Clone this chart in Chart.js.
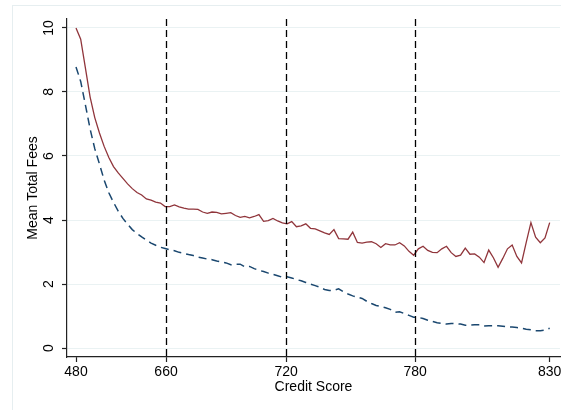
<!DOCTYPE html>
<html>
<head>
<meta charset="utf-8">
<script src="https://cdn.jsdelivr.net/npm/chart.js@4.4.1/dist/chart.umd.min.js"></script>
<style>
  body { margin: 0; background: #fff; }
  #wrap { width: 561px; height: 410px; }
</style>
</head>
<body>
<div id="wrap"><canvas id="Graph" width="561" height="410"></canvas></div>
<script>
// mean fees by credit score bin (bins 480 .. 830)
const feesAll = [
  10.0, 9.65, 8.75, 7.85, 7.2, 6.72, 6.3, 5.95, 5.67, 5.47,
  5.3, 5.13, 4.98, 4.86, 4.78, 4.66, 4.62, 4.56, 4.53, 4.42,
  4.42, 4.47, 4.41, 4.37, 4.34, 4.34, 4.33, 4.25, 4.21, 4.25,
  4.24, 4.19, 4.21, 4.23, 4.14, 4.08, 4.11, 4.07, 4.11, 4.17,
  3.96, 3.98, 4.05, 3.97, 3.91, 3.88, 3.95, 3.79, 3.82, 3.88,
  3.74, 3.72, 3.66, 3.6, 3.55, 3.7, 3.42, 3.41, 3.4, 3.62,
  3.3, 3.28, 3.31, 3.32, 3.26, 3.14, 3.26, 3.22, 3.22, 3.29,
  3.19, 3.02, 2.9, 3.1, 3.18, 3.05, 2.99, 2.98, 3.1, 3.18,
  2.98, 2.86, 2.9, 3.12, 2.93, 2.94, 2.84, 2.67, 3.06, 2.82,
  2.52, 2.8, 3.1, 3.22, 2.86, 2.66, 3.3, 3.92, 3.46, 3.29,
  3.44, 3.92
];
const feesFitted = [
  8.78, 8.33, 7.6, 6.85, 6.23, 5.75, 5.25, 4.85, 4.55, 4.28,
  4.05, 3.87, 3.7, 3.58, 3.47, 3.37, 3.28, 3.21, 3.15, 3.11,
  3.07, 3.04, 2.99, 2.96, 2.92, 2.89, 2.84, 2.81, 2.78, 2.76,
  2.72, 2.69, 2.66, 2.6, 2.62, 2.62, 2.54, 2.55, 2.48, 2.43,
  2.39, 2.34, 2.3, 2.26, 2.21, 2.23, 2.19, 2.14, 2.1, 2.05,
  2.0, 1.95, 1.9, 1.83, 1.8, 1.8, 1.85, 1.76, 1.69, 1.63,
  1.59, 1.55, 1.46, 1.39, 1.33, 1.3, 1.26, 1.21, 1.12, 1.13,
  1.08, 1.02, 0.96, 0.96, 0.92, 0.87, 0.83, 0.79, 0.77, 0.75,
  0.77, 0.76, 0.75, 0.71, 0.72, 0.73, 0.73, 0.69, 0.7, 0.7,
  0.7, 0.68, 0.66, 0.66, 0.64, 0.62, 0.59, 0.57, 0.54, 0.54,
  0.56, 0.62
];

// x axis: bin position -> credit score label
const xTickPos = [0, 19.2, 44.8, 72.3, 101];
const xTickLabels = ['480', '660', '720', '780', '830'];
const cutoffPos = [19.2, 44.8, 72.3];
const yTicks = [0, 2, 4, 6, 8, 10];

const frame = {
    id: 'frame',
    beforeDraw(chart) {
        const ctx = chart.ctx;
        ctx.save();
        ctx.fillStyle = '#fff';
        ctx.fillRect(0, 0, chart.width, chart.height);
        ctx.strokeStyle = '#e6eef0';
        ctx.lineWidth = 1;
        ctx.strokeRect(12.5, 5.5, chart.width, chart.height);
        ctx.restore();
    }
};

const cutoffLines = {
    id: 'cutoffLines',
    afterDatasetsDraw(chart) {
        const ctx = chart.ctx;
        const xs = chart.scales.x;
        const area = chart.chartArea;
        ctx.save();
        ctx.strokeStyle = '#000';
        ctx.lineWidth = 1.3;
        ctx.setLineDash([7, 4]);
        cutoffPos.forEach(v => {
            const px = Math.round(xs.getPixelForValue(v)) + 0.5;
            ctx.beginPath();
            ctx.moveTo(px, area.top);
            ctx.lineTo(px, area.bottom);
            ctx.stroke();
        });
        ctx.restore();
    }
};

const font = { family: '"Liberation Sans", Arial, Helvetica, sans-serif', size: 14 };

const ctx = document.getElementById('Graph').getContext('2d');
new Chart(ctx, {
    type: 'line',
    data: {
        datasets: [{
            data: feesAll.map((v, i) => ({ x: i, y: v })),
            borderColor: '#90353b',
            borderWidth: 1.3,
            pointRadius: 0,
            tension: 0
        }, {
            data: feesFitted.map((v, i) => ({ x: i, y: v })),
            borderColor: '#1a476f',
            borderWidth: 1.5,
            borderDash: [8, 5],
            pointRadius: 0,
            tension: 0
        }]
    },
    options: {
        responsive: false,
        animation: false,
        layout: { padding: { top: 19, right: 1, bottom: 0, left: 0 } },
        plugins: {
            legend: { display: false },
            tooltip: { enabled: false }
        },
        scales: {
            x: {
                type: 'linear',
                min: -1.92,
                max: 103.2,
                afterBuildTicks: scale => {
                    scale.ticks = xTickPos.map(v => ({ value: v }));
                },
                afterFit: scale => {
                    scale.height = 53;
                    scale.paddingLeft = 0;
                    scale.paddingRight = 0;
                },
                ticks: {
                    autoSkip: false,
                    maxRotation: 0,
                    padding: 1.5,
                    color: '#000',
                    font: font,
                    callback: (v, i) => xTickLabels[i]
                },
                grid: {
                    drawOnChartArea: false,
                    drawTicks: true,
                    tickLength: 5,
                    tickColor: '#222',
                    tickWidth: 1.2
                },
                border: { color: '#222', width: 1.2 },
                title: {
                    display: true,
                    text: 'Credit Score',
                    color: '#000',
                    font: font,
                    padding: { top: 0, bottom: 14 }
                }
            },
            y: {
                min: -0.28,
                max: 10.28,
                afterBuildTicks: scale => {
                    scale.ticks = yTicks.map(v => ({ value: v }));
                },
                afterFit: scale => {
                    scale.width = 67;
                    scale.paddingTop = 0;
                    scale.paddingBottom = 0;
                },
                ticks: {
                    minRotation: 90,
                    maxRotation: 90,
                    crossAlign: 'center',
                    padding: 5,
                    color: '#000',
                    font: font
                },
                grid: {
                    color: '#eaf2f3',
                    lineWidth: 1,
                    drawTicks: true,
                    tickLength: 5,
                    tickColor: '#222',
                    tickWidth: 1.2
                },
                border: { color: '#222', width: 1.2 },
                title: {
                    display: true,
                    text: 'Mean Total Fees',
                    color: '#000',
                    font: font,
                    padding: { top: 24.6, bottom: 0 }
                }
            }
        }
    },
    plugins: [frame, cutoffLines]
});
</script>
</body>
</html>
